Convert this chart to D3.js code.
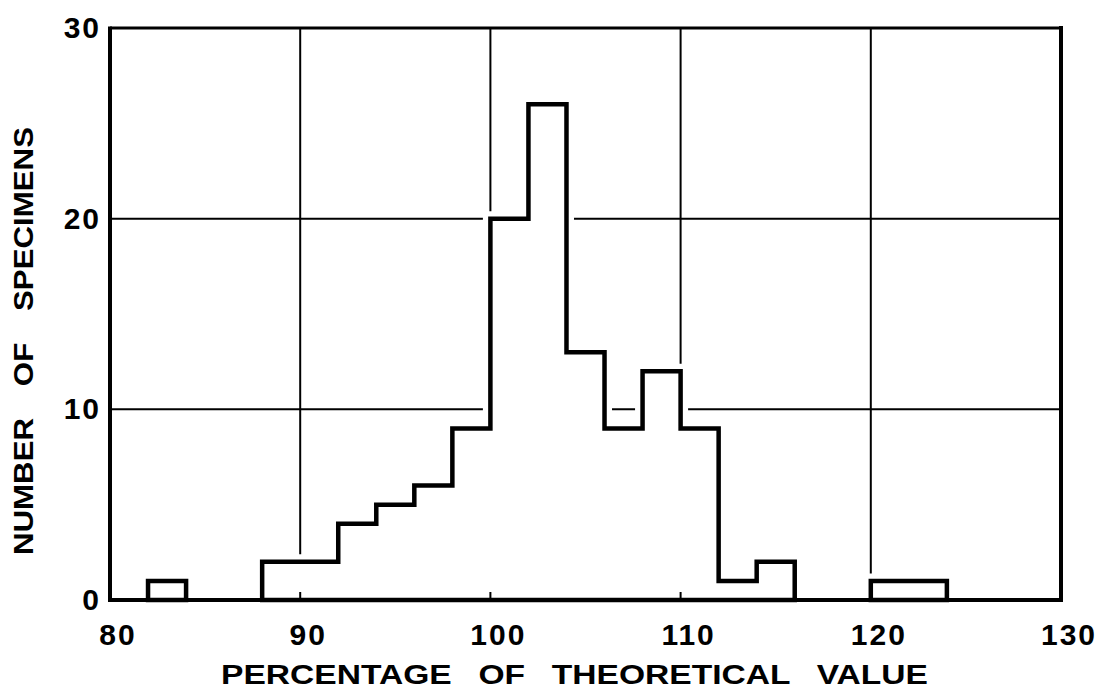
<!DOCTYPE html>
<html>
<head>
<meta charset="utf-8">
<script src="https://cdn.jsdelivr.net/npm/d3@7/dist/d3.min.js"></script>
<style>
  html, body { margin: 0; padding: 0; background: #fff; }
  svg { display: block; }
  text { font-family: "Liberation Sans", "DejaVu Sans", sans-serif; font-weight: 700; fill: #000; }
</style>
</head>
<body>
<svg id="chart" width="1098" height="690"></svg>
<script>
// Histogram of specimens: bin lower edges (width 2) and counts
const binStarts = [80, 82, 84, 86, 88, 90, 92, 94, 96, 98, 100, 102, 104, 106, 108, 110, 112, 114, 116, 118, 120, 122, 124, 126, 128];
const counts    = [ 0,  1,  0,  0,  2,  2,  4,  5,  6,  9,  20,  26,  13,   9,  12,   9,   1,   2,   0,   0,   1,   1,   0,   0,   0];
const binWidth = 2;

const xTicks = [80, 90, 100, 110, 120, 130];
const yTicks = [0, 10, 20, 30];
const xTitle = "PERCENTAGE OF THEORETICAL VALUE";
const yTitle = "NUMBER OF SPECIMENS";

const svg = d3.select("#chart");
const plotL = 110, plotR = 1061, plotT = 28, plotB = 600;

const x = d3.scaleLinear().domain([80, 130]).range([plotL, plotR]);
const y = d3.scaleLinear().domain([0, 30]).range([plotB, plotT]);

// grid
const grid = svg.append("g").attr("stroke", "#000").attr("stroke-width", 2);
grid.selectAll("line.gx").data(xTicks.slice(1, -1)).join("line")
  .attr("class", "gx")
  .attr("x1", d => x(d)).attr("x2", d => x(d))
  .attr("y1", plotT).attr("y2", plotB);
grid.selectAll("line.gy").data(yTicks.slice(1, -1)).join("line")
  .attr("class", "gy")
  .attr("y1", d => y(d)).attr("y2", d => y(d))
  .attr("x1", plotL).attr("x2", plotR);

// build outline for each contiguous run of non-empty bins
const groups = [];
let cur = null;
binStarts.forEach((s, i) => {
  if (counts[i] > 0) {
    if (!cur) { cur = []; groups.push(cur); }
    cur.push([s, counts[i]]);
  } else cur = null;
});
function outline(g) {
  const pts = [[x(g[0][0]), y(0)]];
  g.forEach(([s, c]) => { pts.push([x(s), y(c)]); pts.push([x(s + binWidth), y(c)]); });
  pts.push([x(g[g.length - 1][0] + binWidth), y(0)]);
  return d3.line()(pts) + "Z";
}

const hist = svg.append("g");
// white knock-out so the grid stops short of the bars
hist.selectAll("path.halo").data(groups).join("path")
  .attr("class", "halo")
  .attr("d", outline)
  .attr("fill", "#fff").attr("stroke", "#fff").attr("stroke-width", 15)
  .attr("stroke-linejoin", "miter");
hist.selectAll("path.bar").data(groups).join("path")
  .attr("class", "bar")
  .attr("d", outline)
  .attr("fill", "none").attr("stroke", "#000").attr("stroke-width", 4.5)
  .attr("stroke-linejoin", "miter");

// small ticks on the base line
svg.append("g").selectAll("line").data(xTicks.slice(1, -1)).join("line")
  .attr("x1", d => x(d)).attr("x2", d => x(d))
  .attr("y1", plotB).attr("y2", plotB - 8)
  .attr("stroke", "#000").attr("stroke-width", 2);

// frame
const frame = svg.append("g").attr("stroke", "#000").attr("fill", "none");
frame.append("line").attr("x1", plotL).attr("x2", plotR).attr("y1", plotT).attr("y2", plotT).attr("stroke-width", 3);
frame.append("line").attr("x1", plotL).attr("x2", plotR + 2).attr("y1", plotB).attr("y2", plotB).attr("stroke-width", 4);
frame.append("line").attr("x1", plotL).attr("x2", plotL).attr("y1", plotT - 1.5).attr("y2", plotB + 2).attr("stroke-width", 4);
frame.append("line").attr("x1", plotR).attr("x2", plotR).attr("y1", plotT - 2).attr("y2", plotB + 2).attr("stroke-width", 4);

// tick labels
svg.append("g").selectAll("text").data(xTicks).join("text")
  .attr("x", d => x(d) + 8).attr("y", 645)
  .attr("text-anchor", "middle")
  .style("font-size", "30px").style("letter-spacing", "2px")
  .text(d => d);
svg.append("g").selectAll("text").data(yTicks).join("text")
  .attr("x", 101).attr("y", d => y(d) + 10)
  .attr("text-anchor", "end")
  .style("font-size", "30px").style("letter-spacing", "2px")
  .text(d => d);

// axis titles (wide hand lettering: stretch to the drawn width)
svg.append("text")
  .attr("x", 221).attr("y", 684)
  .attr("textLength", 707).attr("lengthAdjust", "spacingAndGlyphs")
  .style("font-size", "27px").style("word-spacing", "14px")
  .text(xTitle);
svg.append("text")
  .attr("transform", "translate(33,555) rotate(-90)")
  .attr("textLength", 428).attr("lengthAdjust", "spacingAndGlyphs")
  .style("font-size", "27px").style("word-spacing", "20px")
  .text(yTitle);
</script>
</body>
</html>
